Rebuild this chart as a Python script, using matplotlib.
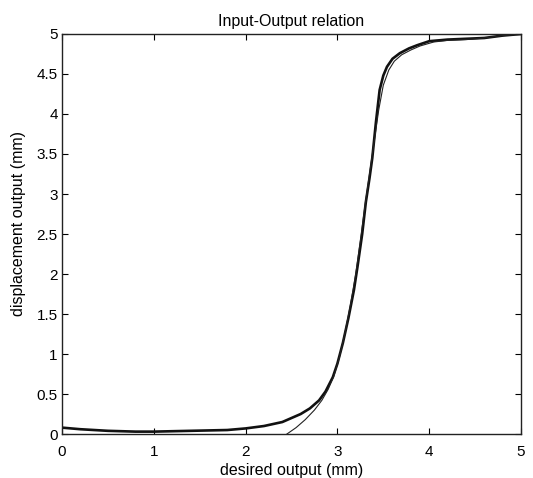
import matplotlib.pyplot as plt

plt.rcParams["font.family"] = ["Liberation Sans", "DejaVu Sans"]

# measured displacement vs desired output (thick trace)
measured_x = [0.0, 0.2, 0.5, 0.8, 1.0, 1.4, 1.8, 2.0, 2.2, 2.4, 2.5, 2.6, 2.7,
              2.8, 2.87, 2.95, 3.0, 3.06, 3.12, 3.18, 3.22, 3.27, 3.31, 3.35,
              3.38, 3.42, 3.46, 3.5, 3.54, 3.6, 3.68, 3.78, 3.87, 4.0, 4.2,
              4.4, 4.6, 4.8, 5.0]
measured_y = [0.08, 0.06, 0.04, 0.03, 0.03, 0.04, 0.05, 0.07, 0.1, 0.15, 0.2,
              0.25, 0.32, 0.42, 0.53, 0.71, 0.88, 1.14, 1.45, 1.8, 2.1, 2.5,
              2.9, 3.2, 3.45, 3.9, 4.3, 4.48, 4.59, 4.69, 4.76, 4.82, 4.86,
              4.91, 4.93, 4.94, 4.95, 4.98, 5.0]

# reference model response (thin trace)
model_x = [2.45, 2.55, 2.65, 2.75, 2.83, 2.9, 2.96, 3.02, 3.08, 3.14, 3.2,
           3.25, 3.3, 3.35, 3.4, 3.45, 3.5, 3.56, 3.62, 3.7, 3.8, 3.9, 4.05,
           4.2, 4.4, 4.6, 4.8, 5.0]
model_y = [0.0, 0.08, 0.18, 0.3, 0.42, 0.56, 0.72, 0.95, 1.25, 1.6, 2.0,
           2.42, 2.85, 3.25, 3.65, 4.05, 4.36, 4.55, 4.66, 4.74, 4.8, 4.85,
           4.9, 4.92, 4.93, 4.95, 4.98, 5.0]

x_ticks = [0, 1, 2, 3, 4, 5]
y_ticks = [0, 0.5, 1, 1.5, 2, 2.5, 3, 3.5, 4, 4.5, 5]
y_tick_labels = ["0", "0.5", "1", "1.5", "2", "2.5", "3", "3.5", "4", "4.5", "5"]

fig = plt.figure(figsize=(5.33, 4.78), dpi=100)
ax = fig.add_axes([0.1163, 0.092, 0.8612, 0.8369])

ax.plot(measured_x, measured_y, color="#111111", linewidth=1.9)
ax.plot(model_x, model_y, color="#222222", linewidth=0.8)

ax.set_xlim(0, 5)
ax.set_ylim(0, 5)
ax.set_xticks(x_ticks)
ax.set_yticks(y_ticks)
ax.set_yticklabels(y_tick_labels)
ax.tick_params(direction="in", top=True, right=True, length=4, labelsize=11)
ax.tick_params(axis="x", pad=8)
ax.tick_params(axis="y", pad=3)
for spine in ax.spines.values():
    spine.set_linewidth(1.0)
    spine.set_color("#222222")

ax.set_title("Input-Output relation", fontsize=11.5, pad=6)
ax.set_xlabel("desired output (mm)", fontsize=11.5, labelpad=2.5)
ax.set_ylabel("displacement output (mm)", fontsize=11.5, labelpad=8, y=0.527)

fig.savefig("out.png", dpi=100)
